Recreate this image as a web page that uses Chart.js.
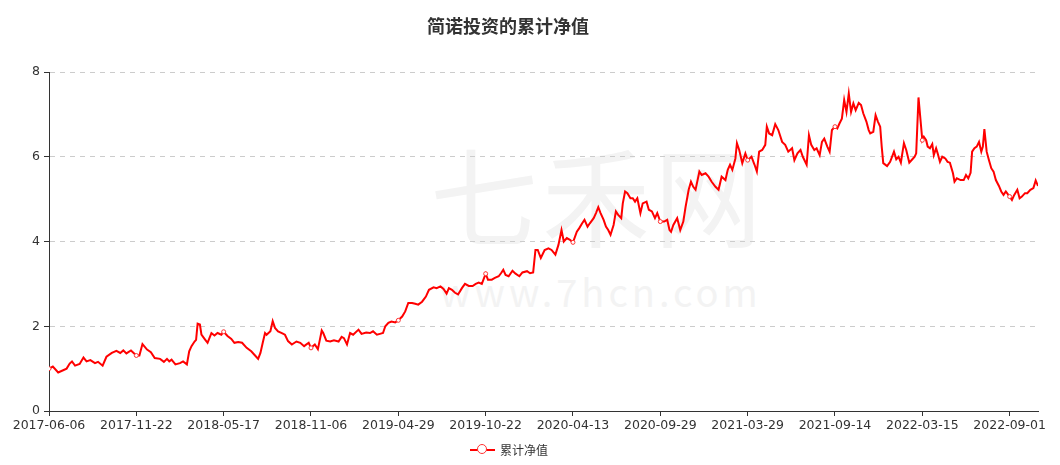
<!DOCTYPE html>
<html>
<head>
<meta charset="utf-8">
<script src="https://cdn.jsdelivr.net/npm/chart.js@4/dist/chart.umd.min.js"></script>
<style>
  body { margin: 0; background: #fff; }
  #wrap { position: relative; width: 1060px; height: 465px; overflow: hidden; font-family: "Noto Sans CJK SC", "Noto Sans", sans-serif; }
  #mark1 { position: absolute; left: 430px; top: 138px; font-size: 108px; color: #f3f3f3; letter-spacing: 4px; line-height: 1; }
  #mark2 { position: absolute; left: 440px; top: 272px; font-size: 38px; color: #f3f3f3; letter-spacing: 4px; line-height: 1; }
  #title { position: absolute; left: 0; top: 12px; width: 1016px; text-align: center; font-size: 18px; font-weight: bold; color: #333; }
  #legend { position: absolute; left: 470px; top: 441px; font-size: 12px; color: #333; display: flex; align-items: center; }
  #legend .ico { position: relative; width: 25px; height: 12px; margin-right: 5px; }
  #legend .ico i { position: absolute; left: 0; top: 5px; width: 25px; height: 2px; background: #ff0000; }
  #legend .ico b { position: absolute; left: 7px; top: 0; width: 8px; height: 8px; border: 1.5px solid #ff3333; border-radius: 50%; background: #fff; }
  canvas { position: absolute; left: 0; top: 0; }
</style>
</head>
<body>
<div id="wrap">
  <div id="mark1">七禾网</div>
  <div id="mark2">www.7hcn.com</div>
  <canvas id="c" width="1060" height="465"></canvas>
  <div id="title">简诺投资的累计净值</div>
  <div id="legend"><span class="ico"><i></i><b></b></span><span>累计净值</span></div>
</div>
<script>
// x-axis labels, one every 114 trading days
const tickDates = ["2017-06-06", "2017-11-22", "2018-05-17", "2018-11-06", "2019-04-29", "2019-10-22",
  "2020-04-13", "2020-09-29", "2021-03-29", "2021-09-14", "2022-03-15", "2022-09-01"];
const labelEvery = 114;
const lastDay = 1291;

// trading-day index of each reading, and the net value
const dayIdx = [
  0, 5, 12, 17, 23, 27, 30, 34, 40, 45, 49, 54, 60, 64, 70, 75, 82, 88, 93, 97,
  101, 107, 114, 118, 122, 128, 133, 138, 145, 150, 154, 157, 160, 165, 171, 175, 180, 183, 186, 190,
  192, 194, 197, 199, 204, 207, 212, 216, 220, 225, 228, 233, 238, 242, 247, 252, 258, 264, 269, 273,
  276, 279, 282, 284, 289, 292, 295, 299, 304, 308, 312, 317, 323, 328, 333, 339, 342, 347, 351, 354,
  356, 358, 362, 367, 372, 378, 382, 385, 389, 393, 397, 404, 408, 414, 419, 423, 428, 432, 436, 439,
  443, 447, 452, 456, 461, 465, 469, 474, 478, 482, 487, 492, 496, 502, 506, 511, 515, 519, 522, 526,
  530, 534, 539, 543, 548, 553, 557, 561, 565, 570, 573, 578, 582, 587, 590, 593, 596, 600, 605, 609,
  614, 618, 624, 628, 632, 635, 638, 642, 647, 652, 656, 661, 665, 669, 672, 676, 680, 684, 689, 692,
  696, 699, 703, 706, 711, 714, 717, 720, 724, 727, 730, 733, 737, 740, 743, 747, 749, 752, 755, 759,
  762, 765, 768, 772, 775, 780, 783, 787, 791, 794, 798, 803, 807, 810, 812, 815, 820, 824, 828, 831,
  835, 838, 841, 844, 849, 852, 857, 861, 865, 870, 874, 878, 883, 886, 889, 892, 896, 898, 901, 905,
  909, 912, 917, 921, 924, 927, 931, 935, 937, 940, 944, 948, 952, 957, 961, 965, 970, 973, 977, 981,
  984, 989, 992, 995, 999, 1002, 1006, 1009, 1012, 1016, 1019, 1022, 1026, 1029, 1032, 1035, 1038, 1041, 1044, 1047,
  1050, 1053, 1057, 1060, 1063, 1067, 1070, 1072, 1076, 1079, 1082, 1085, 1087, 1089, 1094, 1098, 1103, 1106, 1109, 1112,
  1116, 1119, 1123, 1127, 1130, 1132, 1135, 1140, 1142, 1145, 1147, 1150, 1153, 1155, 1158, 1160, 1163, 1166, 1170, 1173,
  1176, 1180, 1182, 1185, 1190, 1194, 1197, 1200, 1203, 1205, 1208, 1211, 1214, 1217, 1219, 1221, 1224, 1227, 1230, 1233,
  1236, 1240, 1243, 1246, 1249, 1254, 1257, 1260, 1264, 1267, 1270, 1274, 1277, 1281, 1285, 1288, 1291
];
const navValues = [
  1.00, 1.05, 0.91, 0.95, 1.00, 1.12, 1.17, 1.07, 1.11, 1.26, 1.17, 1.20, 1.13, 1.16, 1.07, 1.28, 1.37, 1.42, 1.37, 1.43,
  1.36, 1.43, 1.31, 1.31, 1.58, 1.45, 1.39, 1.25, 1.23, 1.16, 1.23, 1.17, 1.21, 1.10, 1.13, 1.17, 1.10, 1.41, 1.53, 1.64,
  1.68, 2.06, 2.04, 1.80, 1.68, 1.61, 1.84, 1.78, 1.84, 1.80, 1.87, 1.77, 1.70, 1.61, 1.63, 1.61, 1.49, 1.41, 1.31, 1.23,
  1.37, 1.61, 1.84, 1.80, 1.88, 2.12, 1.96, 1.88, 1.84, 1.80, 1.65, 1.57, 1.64, 1.61, 1.53, 1.61, 1.49, 1.57, 1.46, 1.72,
  1.90, 1.84, 1.66, 1.64, 1.67, 1.64, 1.75, 1.72, 1.57, 1.84, 1.80, 1.92, 1.82, 1.85, 1.84, 1.88, 1.80, 1.82, 1.84, 2.00,
  2.08, 2.11, 2.09, 2.14, 2.23, 2.35, 2.55, 2.55, 2.53, 2.51, 2.58, 2.70, 2.86, 2.92, 2.90, 2.94, 2.88, 2.77, 2.90, 2.86,
  2.79, 2.75, 2.90, 3.00, 2.95, 2.95, 3.00, 3.03, 3.00, 3.24, 3.10, 3.10, 3.14, 3.18, 3.25, 3.33, 3.21, 3.18, 3.31, 3.24,
  3.18, 3.27, 3.30, 3.25, 3.27, 3.80, 3.80, 3.61, 3.80, 3.84, 3.80, 3.69, 3.92, 4.27, 4.00, 4.08, 4.04, 3.98, 4.23, 4.31,
  4.43, 4.51, 4.35, 4.43, 4.55, 4.67, 4.81, 4.67, 4.51, 4.35, 4.27, 4.16, 4.39, 4.71, 4.63, 4.55, 4.90, 5.18, 5.14, 5.02,
  5.02, 4.94, 5.02, 4.67, 4.90, 4.94, 4.75, 4.71, 4.55, 4.67, 4.47, 4.47, 4.51, 4.27, 4.23, 4.39, 4.55, 4.27, 4.47, 4.82,
  5.22, 5.41, 5.29, 5.22, 5.65, 5.57, 5.61, 5.53, 5.41, 5.29, 5.22, 5.53, 5.45, 5.69, 5.81, 5.69, 5.96, 6.32, 6.16, 5.85,
  6.08, 5.92, 6.00, 5.81, 5.65, 6.12, 6.16, 6.28, 6.71, 6.55, 6.51, 6.77, 6.63, 6.35, 6.28, 6.12, 6.20, 5.92, 6.08, 6.16,
  6.00, 5.81, 6.51, 6.28, 6.16, 6.20, 6.04, 6.35, 6.43, 6.24, 6.12, 6.63, 6.71, 6.67, 6.79, 6.90, 7.34, 7.06, 7.49, 7.06,
  7.26, 7.10, 7.27, 7.22, 7.02, 6.83, 6.63, 6.55, 6.59, 6.98, 6.83, 6.71, 6.24, 5.85, 5.78, 5.88, 6.12, 5.94, 6.00, 5.86,
  6.32, 6.16, 5.86, 5.94, 6.00, 6.08, 7.40, 6.39, 6.47, 6.39, 6.24, 6.20, 6.30, 6.04, 6.20, 6.08, 5.88, 6.00, 5.96, 5.88,
  5.86, 5.61, 5.41, 5.49, 5.45, 5.45, 5.57, 5.49, 5.62, 6.12, 6.20, 6.24, 6.35, 6.12, 6.24, 6.65, 6.12, 5.92, 5.73, 5.65,
  5.45, 5.31, 5.18, 5.10, 5.18, 5.06, 4.98, 5.10, 5.22, 5.02, 5.06, 5.14, 5.14, 5.22, 5.26, 5.44, 5.31
];
const seriesName = "累计净值";

const points = dayIdx.map((d, i) => ({ x: d, y: navValues[i] }));
const tickFont = { size: 12.5, family: "'DejaVu Sans', sans-serif" };

new Chart(document.getElementById("c"), {
  type: "line",
  data: {
    datasets: [{
      label: seriesName,
      data: points,
      borderColor: "#ff0000",
      borderWidth: 2,
      backgroundColor: "#fff",
      pointBorderColor: "#ff3333",
      pointBorderWidth: 1,
      pointRadius: (ctx) => (ctx.raw && ctx.raw.x % labelEvery === 0 ? 2 : 0),
      tension: 0,
    }],
  },
  options: {
    responsive: false,
    animation: false,
    layout: { padding: { left: 0, right: 22, top: 72, bottom: 30 } },
    plugins: { legend: { display: false }, title: { display: false }, tooltip: { enabled: false } },
    scales: {
      x: {
        type: "linear",
        min: 0,
        max: lastDay,
        grid: { drawOnChartArea: false, color: "#333", tickLength: 5 },
        border: { color: "#333", width: 1 },
        ticks: {
          stepSize: labelEvery,
          includeBounds: false,
          autoSkip: false,
          maxRotation: 0,
          maxTicksLimit: 30,
          padding: 2,
          color: "#333",
          font: tickFont,
          callback: (v) => tickDates[v / labelEvery] || "",
        },
      },
      y: {
        min: 0,
        max: 8,
        afterFit: (s) => { s.width = 49; },
        grid: { color: "#cccccc", tickColor: "#333", tickLength: 5 },
        border: { color: "#333", width: 1, dash: [5, 5] },
        ticks: {
          stepSize: 2,
          padding: 4,
          color: "#333",
          font: tickFont,
        },
      },
    },
  },
});
</script>
</body>
</html>
